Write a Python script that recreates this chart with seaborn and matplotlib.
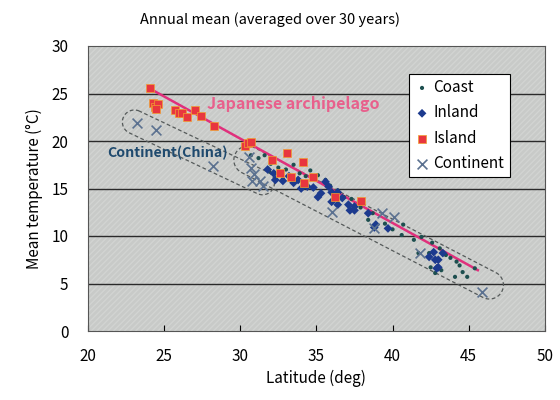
import numpy as np
import pandas as pd
import seaborn as sns
import matplotlib.pyplot as plt
from matplotlib.patches import Polygon, Rectangle

# ---- data ----
coast_lat = [30.7, 31.2, 31.6, 31.9, 32.0, 32.5, 32.8, 33.0, 33.5, 33.9, 34.3, 34.6, 35.1,
             35.6, 35.9, 36.4, 36.8, 37.3, 37.9, 38.4, 38.7, 39.5, 40.0, 40.6, 40.7, 41.4,
             41.7, 41.9, 42.4, 42.5, 42.6, 42.8, 43.1, 43.2, 43.5, 43.8, 44.1, 44.2, 44.4,
             44.6, 44.9, 45.4]
coast_temp = [18.5, 18.2, 18.5, 16.8, 17.6, 17.2, 16.0, 17.0, 17.5, 16.6, 16.3, 16.9, 16.4,
              15.9, 15.3, 14.8, 14.1, 13.9, 13.0, 11.7, 12.4, 11.3, 10.7, 10.1, 11.2, 9.6,
              8.2, 9.9, 8.2, 6.7, 9.3, 6.1, 8.7, 6.4, 8.0, 7.7, 5.7, 7.3, 6.9,
              6.2, 5.7, 6.6]

inland_lat = [31.8, 32.2, 32.3, 32.8, 33.2, 33.5, 33.8, 34.0, 34.4, 34.8, 35.1, 35.3, 35.6,
              35.8, 36.0, 36.0, 36.4, 36.4, 36.7, 37.1, 37.2, 37.5, 37.5, 38.4, 38.8, 38.9,
              39.7, 42.4, 42.7, 42.8, 43.0, 43.0, 43.3, 42.9]
inland_temp = [17.0, 16.6, 15.9, 15.8, 16.3, 15.6, 15.9, 15.0, 15.2, 15.1, 14.1, 14.5, 15.7,
               15.2, 14.6, 13.6, 13.3, 14.6, 14.0, 13.3, 12.7, 13.1, 12.7, 12.4, 10.9, 11.2,
               10.8, 7.8, 8.3, 7.5, 6.7, 7.5, 8.2, 6.6]

island_lat = [24.1, 24.3, 24.4, 24.6, 24.5, 25.7, 26.0, 26.2, 26.5, 27.0, 27.4, 28.3, 30.3,
              30.5, 30.7, 32.1, 32.6, 33.1, 33.3, 34.1, 34.2, 34.8, 36.2, 37.9]
island_temp = [25.6, 24.0, 23.6, 23.9, 23.4, 23.3, 22.9, 23.0, 22.5, 23.3, 22.6, 21.6, 19.5,
               19.8, 19.9, 18.0, 16.6, 18.7, 16.2, 17.8, 15.6, 16.2, 14.1, 13.7]

continent_lat = [23.2, 24.5, 28.2, 30.6, 30.7, 30.9, 30.8, 31.3, 31.5, 36.0, 38.8, 39.3,
                 40.1, 41.8, 45.9]
continent_temp = [21.9, 21.2, 17.4, 18.3, 17.2, 16.5, 15.8, 15.8, 15.3, 12.5, 10.8, 12.4,
                  12.0, 8.2, 4.1]

# regression line for the Japanese archipelago
trend_lat = [24.2, 45.6]
trend_temp = [25.4, 6.4]

df = pd.concat([
    pd.DataFrame({"lat": coast_lat, "temp": coast_temp, "group": "Coast"}),
    pd.DataFrame({"lat": inland_lat, "temp": inland_temp, "group": "Inland"}),
    pd.DataFrame({"lat": island_lat, "temp": island_temp, "group": "Island"}),
    pd.DataFrame({"lat": continent_lat, "temp": continent_temp, "group": "Continent"}),
])

plt.rcParams['font.family'] = ['Noto Sans CJK JP', 'DejaVu Sans']

fig = plt.figure(figsize=(5.6, 4.0), dpi=100)
ax = fig.add_axes([0.157, 0.1725, 0.816, 0.7125])

ax.set_xlim(20, 50)
ax.set_ylim(0, 30)
ax.set_facecolor('#c8cac8')
ax.add_patch(Rectangle((0, 0), 1, 1, transform=ax.transAxes, facecolor='none',
                       edgecolor='#d2d4d2', hatch='//////', lw=0, zorder=0))
for v in range(5, 30, 5):
    ax.axhline(v, color='#2a2a2a', lw=1.0, zorder=1)


def capsule(p0, p1, r):
    # rounded dashed outline around a group, drawn in screen space
    a = ax.transData.transform(p0)
    b = ax.transData.transform(p1)
    d = b - a
    ang = np.arctan2(d[1], d[0])
    t1 = np.linspace(ang + np.pi / 2, ang + 3 * np.pi / 2, 30)
    t2 = np.linspace(ang - np.pi / 2, ang + np.pi / 2, 30)
    pts = np.vstack([a + r * np.c_[np.cos(t1), np.sin(t1)],
                     b + r * np.c_[np.cos(t2), np.sin(t2)]])
    pts = ax.transData.inverted().transform(pts)
    ax.add_patch(Polygon(pts, closed=True, fill=False, ls=(0, (3, 2)),
                         ec='#555a5a', lw=0.9, zorder=2))


capsule((23.05, 22.0), (31.46, 15.6), 12)
capsule((30.5, 18.0), (46.36, 4.84), 14)

sns.lineplot(x=trend_lat, y=trend_temp, color='#e0307c', lw=1.8, ax=ax, zorder=3)

styles = {
    "Coast": dict(marker='o', s=9, color='#1d4f4f', edgecolor='none'),
    "Inland": dict(marker='D', s=20, color='#1c3a8e', edgecolor='none'),
    "Island": dict(marker='s', s=30, color='#e8363e', edgecolor='#f0a030', linewidth=0.5),
    "Continent": dict(marker='x', s=50, color='#5b7190', linewidth=1.2),
}
for name, kw in styles.items():
    sub = df[df.group == name]
    sns.scatterplot(data=sub, x="lat", y="temp", label=name, ax=ax, zorder=4, **kw)

ax.text(27.8, 23.9, "Japanese archipelago", color='#e8608c', fontsize=11.5,
        fontweight='bold', va='center', ha='left', zorder=5)
ax.text(21.26, 18.7, "Continent(China)", color='#1f4a6e', fontsize=10.2,
        fontweight='bold', va='center', ha='left', zorder=5)

leg = ax.legend(loc='upper left', bbox_to_anchor=(0.686, 0.93), fontsize=11,
                frameon=True, fancybox=False, edgecolor='black', framealpha=1,
                handletextpad=0.25, borderpad=0.35, labelspacing=0.55, handlelength=1.0)
leg.get_frame().set_linewidth(0.8)

ax.set_xticks(range(20, 51, 5))
ax.set_yticks(range(0, 31, 5))
ax.tick_params(axis='x', direction='in', length=4, pad=12, labelsize=11)
ax.tick_params(axis='y', length=0, pad=14, labelsize=11)
for s in ax.spines.values():
    s.set_color('#555555')
    s.set_linewidth(0.8)

ax.set_xlabel("Latitude (deg)", fontsize=11, labelpad=4)
ax.set_ylabel("Mean temperature (°C)", fontsize=11, labelpad=6)
fig.text(0.482, 0.952, "Annual mean (averaged over 30 years)", ha='center',
         va='center', fontsize=10.5)

fig.savefig("out.png", dpi=100)
